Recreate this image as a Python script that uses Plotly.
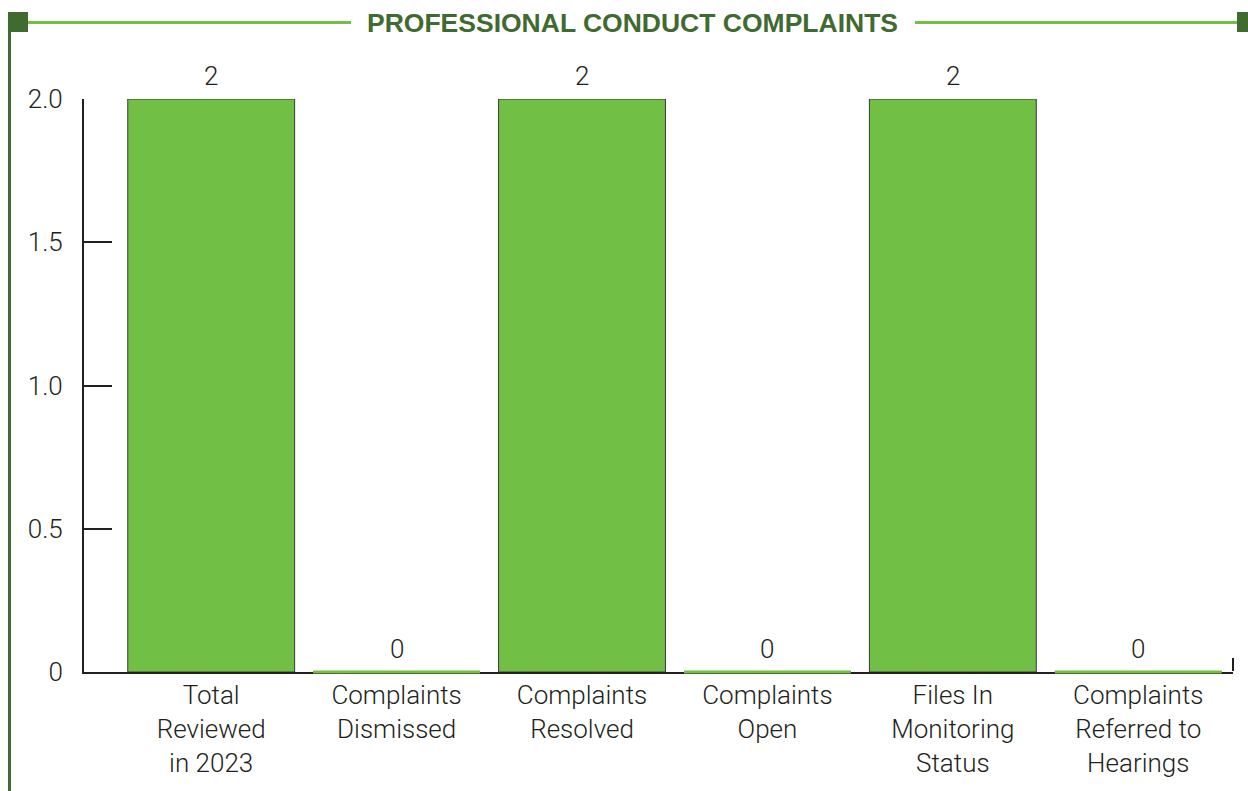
import plotly.graph_objects as go

categories = [
    "Total<br>Reviewed<br>in 2023",
    "Complaints<br>Dismissed",
    "Complaints<br>Resolved",
    "Complaints<br>Open",
    "Files In<br>Monitoring<br>Status",
    "Complaints<br>Referred to<br>Hearings",
]
values = [2, 0, 2, 0, 2, 0]
y_tickvals = [0, 0.5, 1.0, 1.5, 2.0]
y_ticktext = ["0", "0.5", "1.0", "1.5", "2.0"]
title_text = "PROFESSIONAL CONDUCT COMPLAINTS"

W, H = 1248, 791
OFF = 0  # page body margin removed below
ML, MT = 84 - OFF, 99 - OFF
MR = W - (1233 - OFF)
MB = H - (672 - OFF)
PW, PH = W - ML - MR, H - MT - MB

GREEN = "#71bf44"
DARK_GREEN = "#3f6a30"
INK = "#231f20"
FONT = "Roboto"
FS = 26
BAR_WIDTH = 0.9


def px(xs):
    return (xs - OFF - ML) / PW


def py(ys):
    return (H - MB - (ys - OFF)) / PH


x_idx = list(range(len(categories)))

fig = go.Figure()
fig.add_trace(go.Bar(
    x=x_idx,
    y=values,
    marker=dict(color=GREEN, line=dict(color="#3a3a3a", width=1)),
    cliponaxis=False,
    width=BAR_WIDTH,
    hoverinfo="x+y",
))

shapes = []


def rect(x0, y0, x1, y1, color):
    shapes.append(dict(type="rect", xref="paper", yref="paper",
                       x0=px(x0), x1=px(x1), y0=py(y1), y1=py(y0),
                       fillcolor=color, line=dict(width=0), layer="above"))


# decorative frame (screen coordinates)
rect(8, 12, 28, 32, DARK_GREEN)
rect(8, 12, 11, 800, DARK_GREEN)
rect(28, 21, 351, 24, GREEN)
rect(915, 21, 1237, 24, GREEN)
rect(1237, 12, 1260, 32, DARK_GREEN)

# zero-value bars shown as a green rule on the baseline
for i, v in zip(x_idx, values):
    if v == 0:
        shapes.append(dict(type="line", xref="x", yref="paper",
                           x0=i - BAR_WIDTH / 2, x1=i + BAR_WIDTH / 2, y0=0, y1=0,
                           line=dict(color=GREEN, width=3), layer="above"))

# end tick on the x axis
shapes.append(dict(type="line", xref="x domain", yref="y",
                   x0=1, x1=1, ysizemode="pixel", yanchor=0, y0=1, y1=14,
                   line=dict(color=INK, width=2)))

annotations = [dict(
    text="<b>" + title_text + "</b>", xref="paper", yref="paper",
    x=px(632.5), y=py(22.5), xanchor="center", yanchor="middle",
    showarrow=False,
    font=dict(family="Liberation Sans", size=26.5, color=DARK_GREEN),
)]
# value labels above each bar
for i, v in zip(x_idx, values):
    annotations.append(dict(
        text=str(v), x=i, y=v, xref="x", yref="y",
        xanchor="center", yanchor="middle", yshift=23,
        showarrow=False,
        font=dict(family=FONT, size=FS, color=INK, weight=300),
    ))

fig.update_layout(
    width=W, height=H,
    margin=dict(l=ML, r=MR, t=MT, b=MB),
    paper_bgcolor="white", plot_bgcolor="white",
    showlegend=False,
    bargap=0.1,
    shapes=shapes,
    annotations=annotations,
    font=dict(family=FONT, color=INK),
)
fig.update_xaxes(
    tickmode="array", tickvals=x_idx, ticktext=categories,
    range=[-0.686, 5.511],
    showline=True, linecolor=INK, linewidth=2,
    ticks="", showgrid=False, zeroline=False,
    tickfont=dict(family=FONT, size=FS, color=INK, weight=300),
    ticklabelstandoff=-1,
    layer="below traces",
    fixedrange=True,
)
fig.update_yaxes(
    tickmode="array", tickvals=y_tickvals, ticktext=y_ticktext,
    range=[0, 2],
    showline=True, linecolor=INK, linewidth=2,
    ticks="inside", ticklen=28, tickwidth=2, tickcolor=INK,
    showgrid=False, zeroline=False,
    tickfont=dict(family=FONT, size=FS, color=INK, weight=300),
    ticklabelstandoff=14,
    layer="below traces",
    fixedrange=True,
)

fig.write_html("out.html",
               config={"displayModeBar": False},
               post_script="document.body.style.margin='0';document.body.style.overflow='hidden';")
